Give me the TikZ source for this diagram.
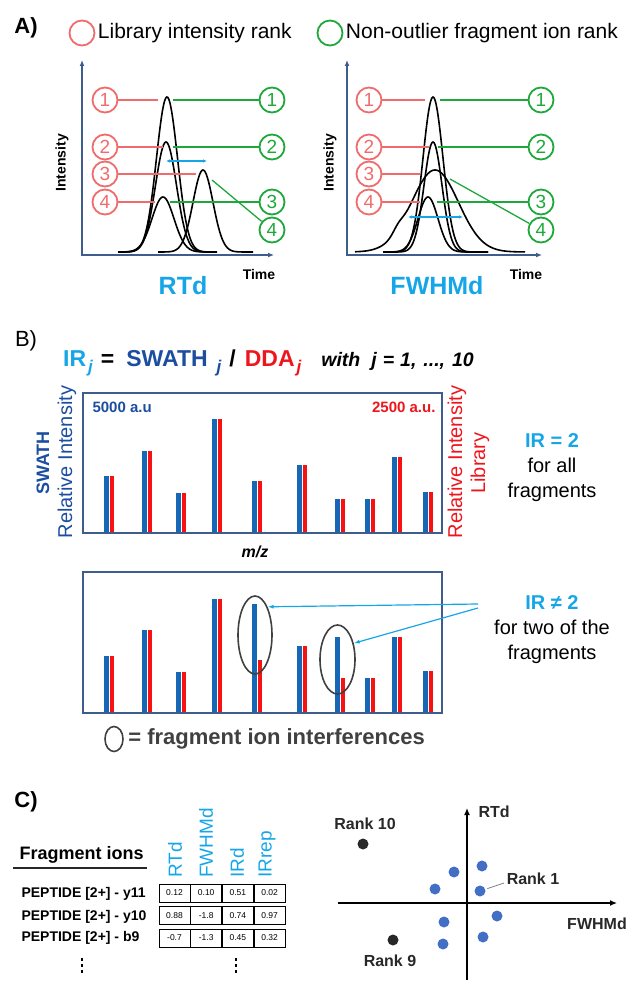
\documentclass[tikz,border=0pt]{standalone}
\usepackage{fontspec}
\setmainfont{Liberation Sans}
\usepackage{xcolor}
\usetikzlibrary{arrows.meta,positioning,shapes.geometric}
\definecolor{rkred}{RGB}{240,108,108}
\definecolor{rkgreen}{RGB}{30,168,60}
\definecolor{lblue}{RGB}{22,166,232}
\definecolor{swblue}{RGB}{28,78,160}
\definecolor{ddared}{RGB}{238,22,28}
\definecolor{axblue}{RGB}{62,92,140}
\definecolor{barblue}{RGB}{22,104,182}
\definecolor{barred}{RGB}{246,18,18}
\definecolor{dgray}{RGB}{64,64,64}
\definecolor{ink}{RGB}{40,40,40}
\definecolor{dotblue}{RGB}{66,110,196}
\newcommand{\fs}[2]{\fontsize{#1}{#2}\selectfont}
\newcommand{\subj}[1]{\hspace{2pt}\raisebox{-6pt}{\fs{17}{17}\itshape #1}}

\begin{document}
\begin{tikzpicture}[x=1pt, y=-1pt,
  rk/.style={circle, draw=#1, text=#1, line width=1.8pt, minimum size=25pt, inner sep=0pt, font=\fs{19}{19}},
  rline/.style={rkred, line width=1.3pt},
  gline/.style={rkgreen, line width=1.3pt},
  plotaxis/.style={axblue, line width=1.6pt, {Latex[length=6pt,width=5pt]}-{Latex[length=6pt,width=5pt]}},
  peak/.style={black, line width=1.6pt},
  gap/.style={lblue, line width=1.2pt, {Latex[length=4pt,width=3.5pt]}-{Latex[length=4pt,width=3.5pt]}},
  ttl/.style={text=lblue, font=\fs{25}{25}\bfseries},
  small/.style={font=\fs{14}{14}\bfseries},
  panel/.style={font=\fs{22}{22}\bfseries},
  legend/.style={font=\fs{21}{21}},
  chart/.style={draw=axblue, line width=1.5pt, minimum width=359pt, minimum height=140pt, inner sep=0pt},
  intf/.style={ellipse, draw=dgray, line width=1.6pt, inner sep=0pt},
  pointer/.style={lblue, line width=1.2pt, -{Latex[length=6pt,width=4pt]}},
  cell/.style={draw, line width=0.7pt, minimum width=31pt, minimum height=18pt, inner sep=0pt, font=\fs{8.5}{8.5}},
  hdr/.style={rotate=90, anchor=west, text=lblue, font=\fs{19}{19}, inner sep=1pt},
  rank/.style={text=ink, font=\fs{16}{16}\bfseries},
  sdot/.style={circle, fill=#1, minimum size=11pt, inner sep=0pt},
  saxis/.style={line width=1.3pt, -{Latex[length=7pt,width=6pt]}}
]
\useasboundingbox (0,0) rectangle (635,995);

% A) peak ranks
\node[panel] (labA) at (26,28) {A)};
\node[rk=rkred] (legr) at (82,33) {};
\node[legend, right=-1pt of legr] (legrt) {Library intensity rank};
\node[rk=rkgreen] (legg) at (330,33) {};
\node[legend, right=-1pt of legg] (leggt) {Non-outlier fragment ion rank};

\coordinate (lo) at (82,255);
\coordinate (ly) at (82,60);
\coordinate (lx) at (274,255);
\draw[plotaxis] (ly) -- (lo) -- (lx);
\node[small, rotate=90] (lint) at (62,163) {Intensity};
\node[small] (ltime) at (259,274) {Time};
\node[ttl] (rtd) at (183,286) {RTd};
\foreach \c/\h/\s in {167/155/10.5, 166/110/10.5, 163/55/11, 203/82/10} {
  \pgfmathsetmacro\dlo{\c-45}
  \pgfmathsetmacro\dhi{\c+50}
  \draw[peak] plot[domain=\dlo:\dhi, samples=90, smooth] (\x,{252-\h*exp(-((\x-\c)^2)/(2*\s*\s))});
}
\foreach \i/\yy/\xe in {1/100/158, 2/147/163, 3/174/196, 4/202/155} {
  \node[rk=rkred] (lr\i) at (105,\yy) {\i};
  \coordinate (lre\i) at (\xe,\yy);
  \draw[rline] (lr\i) -- (lre\i);
}
\foreach \i/\yy/\xs/\ys in {1/100/173/100, 2/147/173/147, 3/202/170/202, 4/230/212/180} {
  \node[rk=rkgreen] (lg\i) at (272,\yy) {\i};
  \coordinate (lgs\i) at (\xs,\ys);
  \draw[gline] (lgs\i) -- (lg\i);
}
\coordinate (lga) at (166,161);
\coordinate (lgb) at (207,161);
\draw[gap] (lga) -- (lgb);

\coordinate (ro) at (347,255);
\coordinate (ry) at (347,60);
\coordinate (rx) at (542,255);
\draw[plotaxis] (ry) -- (ro) -- (rx);
\node[small, rotate=90] (rint) at (330,163) {Intensity};
\node[small] (rtime) at (526,274) {Time};
\node[ttl] (fwhmd) at (437,286) {FWHMd};
\foreach \c/\h/\s in {433/155/10, 433/110/9, 428/55/10} {
  \pgfmathsetmacro\dlo{\c-45}
  \pgfmathsetmacro\dhi{\c+55}
  \draw[peak] plot[domain=\dlo:\dhi, samples=90, smooth] (\x,{252-\h*exp(-((\x-\c)^2)/(2*\s*\s))});
}
\draw[peak] plot[domain=355:525, samples=120, smooth] (\x,{252-82*exp(-((\x-435)^2)/1100)-5*exp(-((\x-398)^2)/50)});
\foreach \i/\yy/\xe in {1/100/425, 2/147/429, 3/174/420, 4/202/420} {
  \node[rk=rkred] (rr\i) at (369,\yy) {\i};
  \coordinate (rre\i) at (\xe,\yy);
  \draw[rline] (rr\i) -- (rre\i);
}
\foreach \i/\yy/\xs/\ys in {1/100/440/100, 2/147/438/147, 3/202/437/202, 4/230/450/179} {
  \node[rk=rkgreen] (rg\i) at (541,\yy) {\i};
  \coordinate (rgs\i) at (\xs,\ys);
  \draw[gline] (rgs\i) -- (rg\i);
}
\coordinate (rga) at (408,217);
\coordinate (rgb) at (463,217);
\draw[gap] (rga) -- (rgb);

% B) intensity ratio
\node[font=\fs{22}{22}] (labB) at (26,341) {B)};
\node[anchor=base west, inner sep=0pt, font=\fs{23}{23}\bfseries] (form) at (63,366)
  {{\color{lblue}IR\subj{j}}\hspace{8pt}=\hspace{12pt}{\color{swblue}SWATH\hspace{7pt}\subj{j}}\hspace{8pt}/\hspace{9pt}{\color{ddared}DDA\subj{j}}\hspace{20pt}{\fs{19.5}{19.5}\itshape with\hspace{11pt}j\hspace{6pt}=\hspace{6pt}1,\hspace{7pt}...,\hspace{7pt}10}};

\foreach \c/\hb/\hr in {109/57/57, 147/82/82, 181/40/40, 217/114/114, 257/52/52, 302/68/68, 340/34/34, 370/34/34, 397/76/76, 428/41/41} {
  \fill[barblue] (\c-4.8,533) rectangle (\c-0.5,533-\hb);
  \fill[barred] (\c+0.5,533) rectangle (\c+4.8,533-\hr);
}
\node[chart] (topc) at (262.5,463) {};
\node[anchor=west, text=swblue, font=\fs{15}{15}\bfseries] (swu) at (89,407) {5000 a.u};
\node[anchor=east, text=ddared, font=\fs{15}{15}\bfseries] (ddu) at (439,407) {2500 a.u.};
\node[rotate=90, text=swblue, font=\fs{18}{18}\bfseries] (swl) at (43,463) {SWATH};
\node[rotate=90, text=swblue, font=\fs{20}{20}] (ril) at (67,462) {Relative Intensity};
\node[rotate=90, text=ddared, font=\fs{20}{20}] (rir) at (457,462) {Relative Intensity};
\node[rotate=90, text=ddared, font=\fs{20}{20}] (libr) at (480,463) {Library};
\node[font=\fs{16}{16}\bfseries\itshape] (mz) at (255,552) {m/z};
\node[align=center, font=\fs{20}{25}] (iratio) at (552,468) {{\bfseries\color{lblue}IR = 2}\\for all\\fragments};

\foreach \c/\hb/\hr in {109/57/57, 147/83/83, 181/41/41, 217/114/114, 257/109/53, 302/67/67, 340/76/35, 370/35/35, 397/76/76, 428/42/42} {
  \fill[barblue] (\c-4.8,713) rectangle (\c-0.5,713-\hb);
  \fill[barred] (\c+0.5,713) rectangle (\c+4.8,713-\hr);
}
\node[chart, minimum height=141pt] (botc) at (262.5,642.5) {};
\node[intf, minimum width=34pt, minimum height=78pt] (el1) at (255,635) {};
\node[intf, minimum width=35pt, minimum height=69pt] (el2) at (337.5,659.5) {};
\node[align=center, font=\fs{20}{25}] (ineq) at (552,630) {{\bfseries\color{lblue}IR ≠ 2}\\for two of the\\fragments};
\coordinate (irs1) at (478,604);
\coordinate (irs2) at (478,608);
\draw[pointer] (irs1) -- (el1.66);
\draw[pointer] (irs2) -- (el2.45);
\node[intf, minimum width=18pt, minimum height=25pt] (elk) at (114,739) {};
\node[right=1pt of elk, text=dgray, font=\fs{22}{22}\bfseries] (intftxt) {= fragment ion interferences};

% C) fragment table and scores
\node[panel] (labC) at (26,802) {C)};
\node[anchor=west, font=\fs{18}{18}\bfseries] (fions) at (16,855) {Fragment ions};
\coordinate (ula) at (13,868);
\coordinate (ulb) at (147,868);
\draw[ink, line width=1.2pt] (ula) -- (ulb);
\foreach \yy/\lab [count=\i] in {894/y11, 917/y10, 938/b9}
  \node[anchor=west, font=\fs{14}{14}\bfseries] (pep\i) at (18,\yy) {PEPTIDE [2+] - \lab};
\foreach \xx/\h [count=\i] in {175/RTd, 206/FWHMd, 237/IRd, 267/IRrep}
  \node[hdr] (h\i) at (\xx,879) {\h};
\foreach \yy/\va/\vb/\vc/\vd [count=\i] in {893/0.12/0.10/0.51/0.02, 915.5/0.88/-1.8/0.74/0.97, 938/-0.7/-1.3/0.45/0.32} {
  \node[cell] (v\i-a) at (174.5,\yy) {\va};
  \node[cell, right=0pt of v\i-a] (v\i-b) {\vb};
  \node[cell, right=0pt of v\i-b] (v\i-c) {\vc};
  \node[cell, right=0pt of v\i-c] (v\i-d) {\vd};
}
\foreach \yy in {959,965,971} {
  \fill (80.7,\yy-1.5) rectangle (83.3,\yy+1.5);
  \fill (234.7,\yy-1.5) rectangle (237.3,\yy+1.5);
}

\coordinate (sb) at (467,980);
\coordinate (st) at (467,808);
\coordinate (sl) at (338,903);
\coordinate (sr) at (617,903);
\draw[saxis] (sb) -- (st);
\draw[saxis] (sl) -- (sr);
\node[rank, anchor=west] (rty) at (475,812) {RTd};
\node[rank] (fwx) at (597,924) {FWHMd};
\node[sdot=ink] (k10) at (363,844) {};
\node[rank] (k10l) at (365,824) {Rank 10};
\node[sdot=ink] (k9) at (393,940) {};
\node[rank] (k9l) at (390,961) {Rank 9};
\foreach \xx/\yy [count=\i] in {454/872, 482/866, 435/889, 480/891, 497/916, 444/922, 483/937, 443/944}
  \node[sdot=dotblue] (b\i) at (\xx,\yy) {};
\node[rank] (k1l) at (533,879) {Rank 1};
\coordinate (k1e) at (504,883);
\draw[gray, line width=0.8pt, shorten <=2pt] (b4) -- (k1e);
\end{tikzpicture}
\end{document}
